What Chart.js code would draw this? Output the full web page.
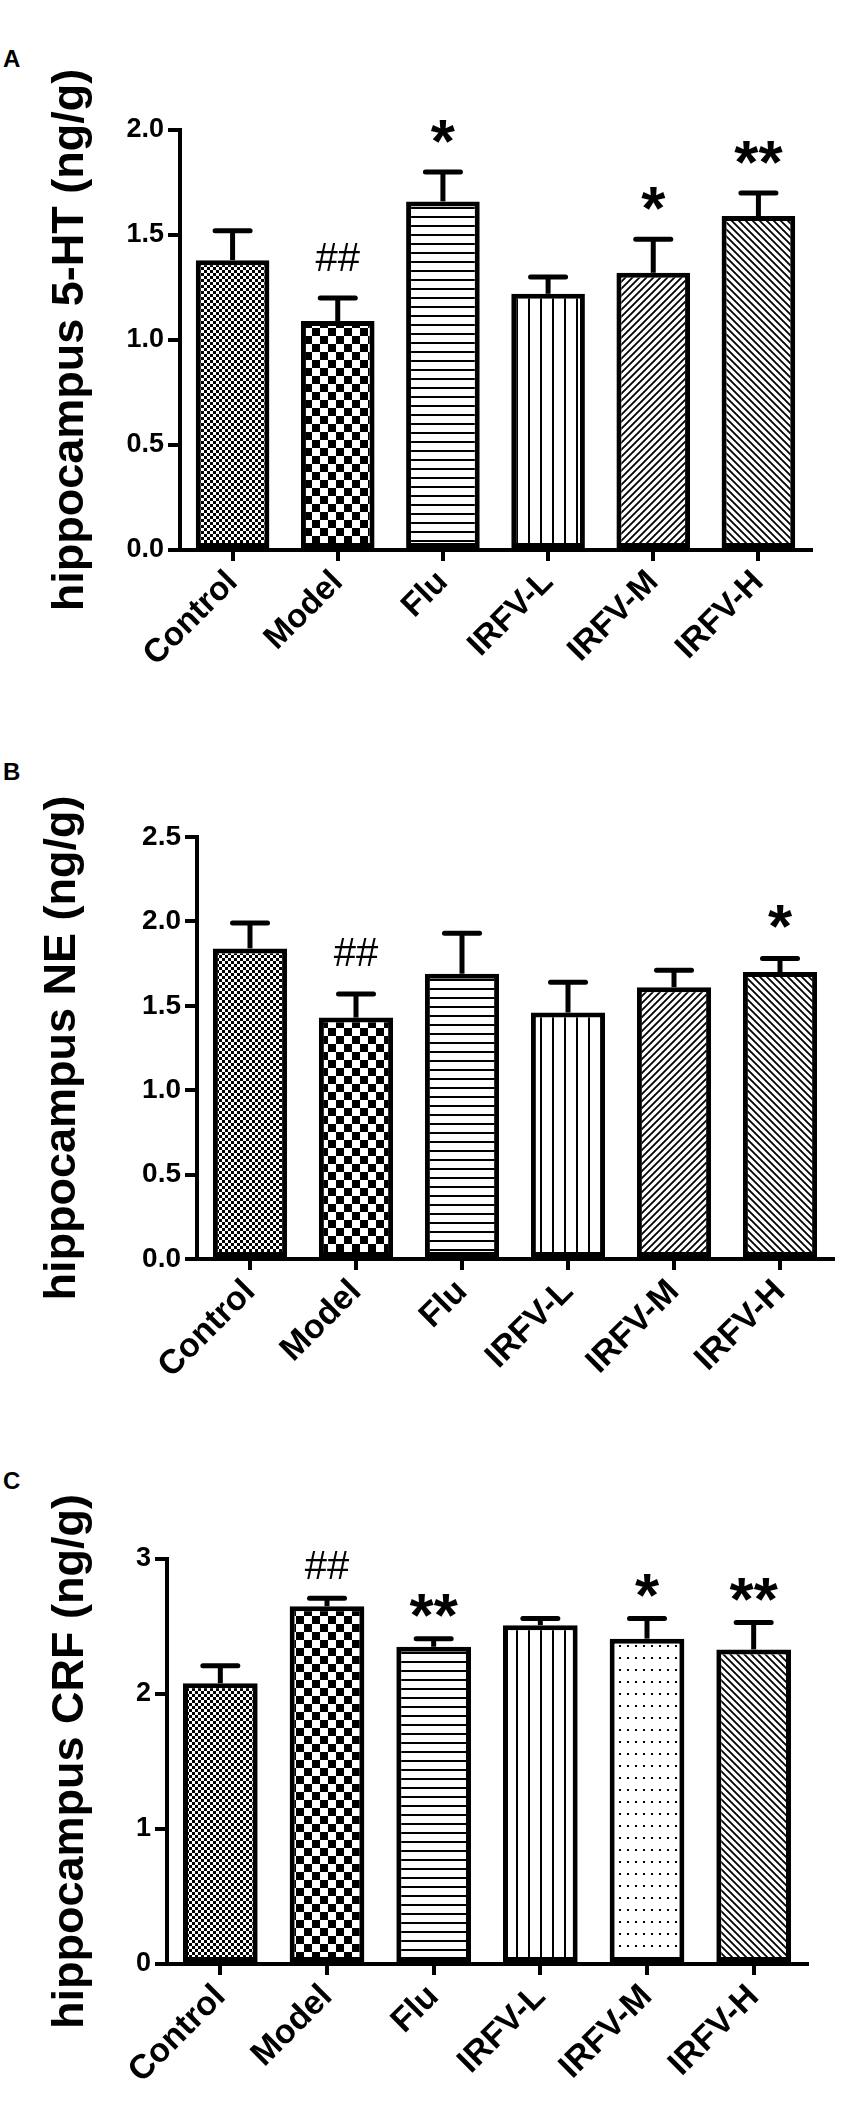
<!DOCTYPE html>
<html><head><meta charset="utf-8">
<script src="https://cdn.jsdelivr.net/npm/chart.js@4.4.1/dist/chart.umd.min.js"></script>
<style>
html,body{margin:0;padding:0;background:#fff;}
body{width:854px;height:2109px;position:relative;overflow:hidden;font-family:"Liberation Sans",Arial,sans-serif;}
canvas{position:absolute;left:0;}
.panel{position:absolute;left:3px;font:bold 24px "Liberation Sans",Arial,sans-serif;line-height:1;color:#000;}
</style></head><body>
<div class="panel" style="top:47px">A</div>
<div class="panel" style="top:760px">B</div>
<div class="panel" style="top:1469px">C</div>
<canvas id="cA" width="854" height="700" style="top:0;width:854px;height:700px"></canvas>
<canvas id="cB" width="854" height="700" style="top:700px;width:854px;height:700px"></canvas>
<canvas id="cC" width="854" height="709" style="top:1400px;width:854px;height:709px"></canvas>
<script>
// ---------------- data ----------------
const categories = ['Control', 'Model', 'Flu', 'IRFV-L', 'IRFV-M', 'IRFV-H'];

const titleA = 'hippocampus 5-HT (ng/g)';
const valuesA = [1.38, 1.09, 1.66, 1.22, 1.32, 1.59];
const semA    = [0.14, 0.11, 0.14, 0.08, 0.16, 0.11];
const marksA  = ['', '##', '*', '', '*', '**'];
const ticksA  = ['0.0', '0.5', '1.0', '1.5', '2.0'];

const titleB = 'hippocampus NE (ng/g)';
const valuesB = [1.84, 1.43, 1.69, 1.46, 1.61, 1.70];
const semB    = [0.15, 0.14, 0.24, 0.18, 0.10, 0.08];
const marksB  = ['', '##', '', '', '', '*'];
const ticksB  = ['0.0', '0.5', '1.0', '1.5', '2.0', '2.5'];

const titleC = 'hippocampus CRF (ng/g)';
const valuesC = [2.08, 2.65, 2.35, 2.51, 2.41, 2.33];
const semC    = [0.13, 0.06, 0.06, 0.05, 0.15, 0.20];
const marksC  = ['', '##', '**', '', '*', '**'];
const ticksC  = ['0', '1', '2', '3'];

const patternsAB = ['fineCheck', 'checker', 'hlines', 'vlines', 'fdiag', 'bdiag'];
const patternsC  = ['fineCheck', 'checker', 'hlines', 'vlines', 'dots', 'bdiag'];

// ---------------- helpers ----------------
const FAM = '"Liberation Sans", Arial, sans-serif';

function makePattern(type) {
  const c = document.createElement('canvas');
  let w = 8, h = 8;
  if (type === 'fineCheck') { w = h = 6; }
  else if (type === 'checker') { w = h = 16; }
  else if (type === 'hlines') { w = 4; h = 9; }
  else if (type === 'vlines') { w = 12; h = 4; }
  else if (type === 'fdiag' || type === 'bdiag') { w = h = 7; }
  else if (type === 'dots') { w = 8; h = 12; }
  c.width = w; c.height = h;
  const g = c.getContext('2d');
  g.fillStyle = '#fff'; g.fillRect(0, 0, w, h);
  g.fillStyle = '#000'; g.strokeStyle = '#000';
  switch (type) {
    case 'fineCheck': g.fillRect(0, 0, 3, 3); g.fillRect(3, 3, 3, 3); break;
    case 'checker': g.fillRect(0, 0, 8, 8); g.fillRect(8, 8, 8, 8); break;
    case 'hlines': g.fillRect(0, 0, w, 2); break;
    case 'vlines': g.fillRect(0, 0, 2, h); break;
    case 'fdiag':
      g.lineWidth = 1.8;
      g.beginPath();
      g.moveTo(-1, h + 1); g.lineTo(w + 1, -1);
      g.moveTo(-1, 1); g.lineTo(1, -1);
      g.moveTo(w - 1, h + 1); g.lineTo(w + 1, h - 1);
      g.stroke(); break;
    case 'bdiag':
      g.lineWidth = 1.8;
      g.beginPath();
      g.moveTo(-1, -1); g.lineTo(w + 1, h + 1);
      g.moveTo(w - 1, -1); g.lineTo(w + 1, 1);
      g.moveTo(-1, h - 1); g.lineTo(1, h + 1);
      g.stroke(); break;
    case 'dots': g.fillRect(3, 5, 2, 2); break;
  }
  return g.createPattern(c, 'repeat');
}

const errorBarPlugin = {
  id: 'errbars',
  afterDatasetsDraw(chart, args, opts) {
    const meta = chart.getDatasetMeta(0);
    const data = chart.data.datasets[0].data;
    const ys = chart.scales.y;
    const ctx = chart.ctx;
    ctx.save();
    ctx.strokeStyle = '#000';
    ctx.fillStyle = '#000';
    ctx.lineWidth = 5;
    meta.data.forEach((bar, i) => {
      const top = ys.getPixelForValue(data[i]);
      const eTop = ys.getPixelForValue(data[i] + opts.sem[i]);
      ctx.lineCap = 'butt';
      ctx.beginPath(); ctx.moveTo(bar.x, top); ctx.lineTo(bar.x, eTop); ctx.stroke();
      ctx.lineCap = 'round';
      ctx.beginPath(); ctx.moveTo(bar.x - 17.5, eTop); ctx.lineTo(bar.x + 17.5, eTop); ctx.stroke();
      const m = opts.marks[i];
      if (m) {
        ctx.font = m.indexOf('#') >= 0 ? ('normal 40px ' + FAM) : ('bold 62px ' + FAM);
        ctx.textAlign = 'center';
        ctx.textBaseline = 'alphabetic';
        const mt = ctx.measureText(m);
        const yc = eTop - opts.offset;
        const base = yc + (mt.actualBoundingBoxAscent - mt.actualBoundingBoxDescent) / 2;
        ctx.fillText(m, bar.x, base);
      }
    });
    ctx.restore();
  }
};

function makeChart(id, cfg) {
  const H = cfg.height;
  const axisGrid = {
    display: true, drawOnChartArea: false, drawTicks: true,
    tickLength: 12, tickWidth: 4, tickColor: '#000', color: '#000', lineWidth: 4
  };
  return new Chart(document.getElementById(id), {
    type: 'bar',
    data: {
      labels: categories,
      datasets: [{
        data: cfg.values,
        backgroundColor: cfg.patterns.map(makePattern),
        borderColor: '#000',
        borderWidth: 5,
        borderSkipped: false,
        barPercentage: 0.7,
        categoryPercentage: 1.0
      }]
    },
    options: {
      responsive: false,
      animation: false,
      devicePixelRatio: 1,
      layout: { padding: { left: 0, top: cfg.top, right: 854 - cfg.right, bottom: 0 } },
      plugins: {
        legend: { display: false },
        tooltip: { enabled: false },
        errbars: { sem: cfg.sem, marks: cfg.marks, offset: cfg.markOffset }
      },
      scales: {
        x: {
          offset: true,
          ticks: {
            font: { family: FAM, size: cfg.xFont, weight: 'bold' }, color: '#000',
            maxRotation: 45, minRotation: 45, padding: 2, autoSkip: false
          },
          grid: Object.assign({}, axisGrid, { offset: false, tickLength: 11 }),
          border: { display: true, color: '#000', width: 4 },
          afterFit(s) { s.height = H - cfg.bottom; }
        },
        y: {
          min: 0, max: cfg.max,
          ticks: {
            stepSize: cfg.step,
            font: { family: FAM, size: cfg.yFont, weight: 'bold' }, color: '#000',
            padding: 4,
            callback: (v, i) => cfg.tickLabels[i]
          },
          grid: axisGrid,
          border: { display: true, color: '#000', width: 4 },
          title: {
            display: true, text: cfg.title, color: '#000',
            font: { family: FAM, size: 45, weight: 'bold' },
            padding: { top: cfg.titlePad, bottom: 0 }
          },
          afterFit(s) { s.width = cfg.left; }
        }
      }
    },
    plugins: [errorBarPlugin]
  });
}

makeChart('cA', {
  height: 700, top: 130, bottom: 550, left: 180, right: 811,
  values: valuesA, sem: semA, marks: marksA, tickLabels: ticksA, title: titleA,
  patterns: patternsAB, max: 2.0, step: 0.5, yFont: 27, xFont: 33, titlePad: 44, markOffset: 41
});
makeChart('cB', {
  height: 700, top: 137, bottom: 559, left: 197, right: 833,
  values: valuesB, sem: semB, marks: marksB, tickLabels: ticksB, title: titleB,
  patterns: patternsAB, max: 2.5, step: 0.5, yFont: 28, xFont: 34, titlePad: 36, markOffset: 42
});
makeChart('cC', {
  height: 709, top: 159, bottom: 564, left: 167, right: 807,
  values: valuesC, sem: semC, marks: marksC, tickLabels: ticksC, title: titleC,
  patterns: patternsC, max: 3, step: 1, yFont: 27, xFont: 34, titlePad: 44, markOffset: 33
});
</script>
</body></html>
